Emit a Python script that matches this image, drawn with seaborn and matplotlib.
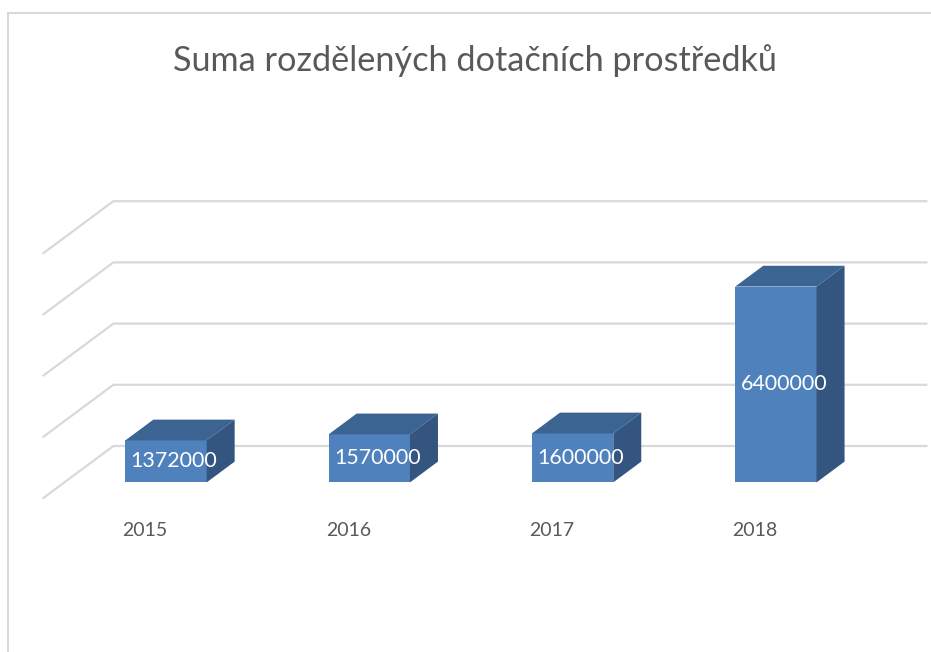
import matplotlib.pyplot as plt
import seaborn as sns
from matplotlib.patches import Polygon, Rectangle
from matplotlib.transforms import Affine2D

# Data
years = ['2015', '2016', '2017', '2018']
amounts = [1372000, 1570000, 1600000, 6400000]
grid_values = [0, 2000000, 4000000, 6000000, 8000000]
title = 'Suma rozdělených dotačních prostředků'

# Colours
front_col = '#4F81BD'
top_col = '#3C6493'
side_col = '#33557F'
grid_col = '#D9D9D9'
text_col = '#595959'

sns.set_style('white')
plt.rcParams['font.family'] = ['Lato', 'DejaVu Sans']

W, H = 931, 652
fig = plt.figure(figsize=(W / 100, H / 100), dpi=100)
floor_px = 498                     # front edge of the floor, pixels from top
ax = fig.add_axes([0, (H - floor_px) / H, 1, floor_px / H])

px_per_cat = 203.3
px_per_val = 30.6 / 1e6
x0_px = 145
# depth of the 3D floor, in data units
DX = 70 / px_per_cat
DY = 52 / px_per_val
d_front, d_back = 0.3, 0.7
bar_w = 0.4

# front faces of the columns through seaborn, shifted back to their depth
sns.barplot(x=years, y=amounts, width=bar_w, color=front_col, saturation=1,
            linewidth=0, ax=ax, zorder=3)
shift = Affine2D().translate(d_front * DX, d_front * DY) + ax.transData
for p in ax.patches:
    p.set_transform(shift)

ax.set_xlim(-x0_px / px_per_cat, (W - x0_px) / px_per_cat)
ax.set_ylim(0, floor_px / px_per_val)

# gridlines: left wall diagonal + back wall horizontal
left, right = -0.5, len(years) - 0.5
for g in grid_values:
    ax.plot([left, left + DX, right + DX], [g, g + DY, g + DY],
            color=grid_col, lw=1.6, zorder=1, solid_joinstyle='miter',
            clip_on=False)

# top and side faces
ddx = (d_back - d_front) * DX
ddy = (d_back - d_front) * DY
for i, v in enumerate(amounts):
    xa = i - bar_w / 2 + d_front * DX
    xb = i + bar_w / 2 + d_front * DX
    yb = d_front * DY
    yt = yb + v
    top = Polygon([(xa, yt), (xb, yt), (xb + ddx, yt + ddy), (xa + ddx, yt + ddy)],
                  closed=True, facecolor=top_col, edgecolor='none', zorder=3)
    side = Polygon([(xb, yb), (xb + ddx, yb + ddy), (xb + ddx, yt + ddy), (xb, yt)],
                   closed=True, facecolor=side_col, edgecolor='none', zorder=3)
    ax.add_patch(top)
    ax.add_patch(side)
    ax.text(i + d_front * DX + 0.04, yb + v / 2, str(v), color='white',
            fontsize=15.4, ha='center', va='center', zorder=5)

# category labels under the floor
ax.set_xticks(range(len(years)))
ax.set_xticklabels(years, color=text_col, fontsize=14)
ax.tick_params(axis='x', length=0, pad=17)
ax.set_yticks([])
ax.set_xlabel('')
ax.set_ylabel('')
for s in ax.spines.values():
    s.set_visible(False)
ax.patch.set_alpha(0)

# chart border
fig.patches.append(Rectangle((8 / W, -0.1), 1.1, (H - 13) / H + 0.1,
                             transform=fig.transFigure, fill=False,
                             edgecolor=grid_col, lw=1.5))

fig.text(475 / W, 1 - 61 / H, title, ha='center', va='center',
         fontsize=24.7, color=text_col)

fig.savefig('out.png', dpi=100)
